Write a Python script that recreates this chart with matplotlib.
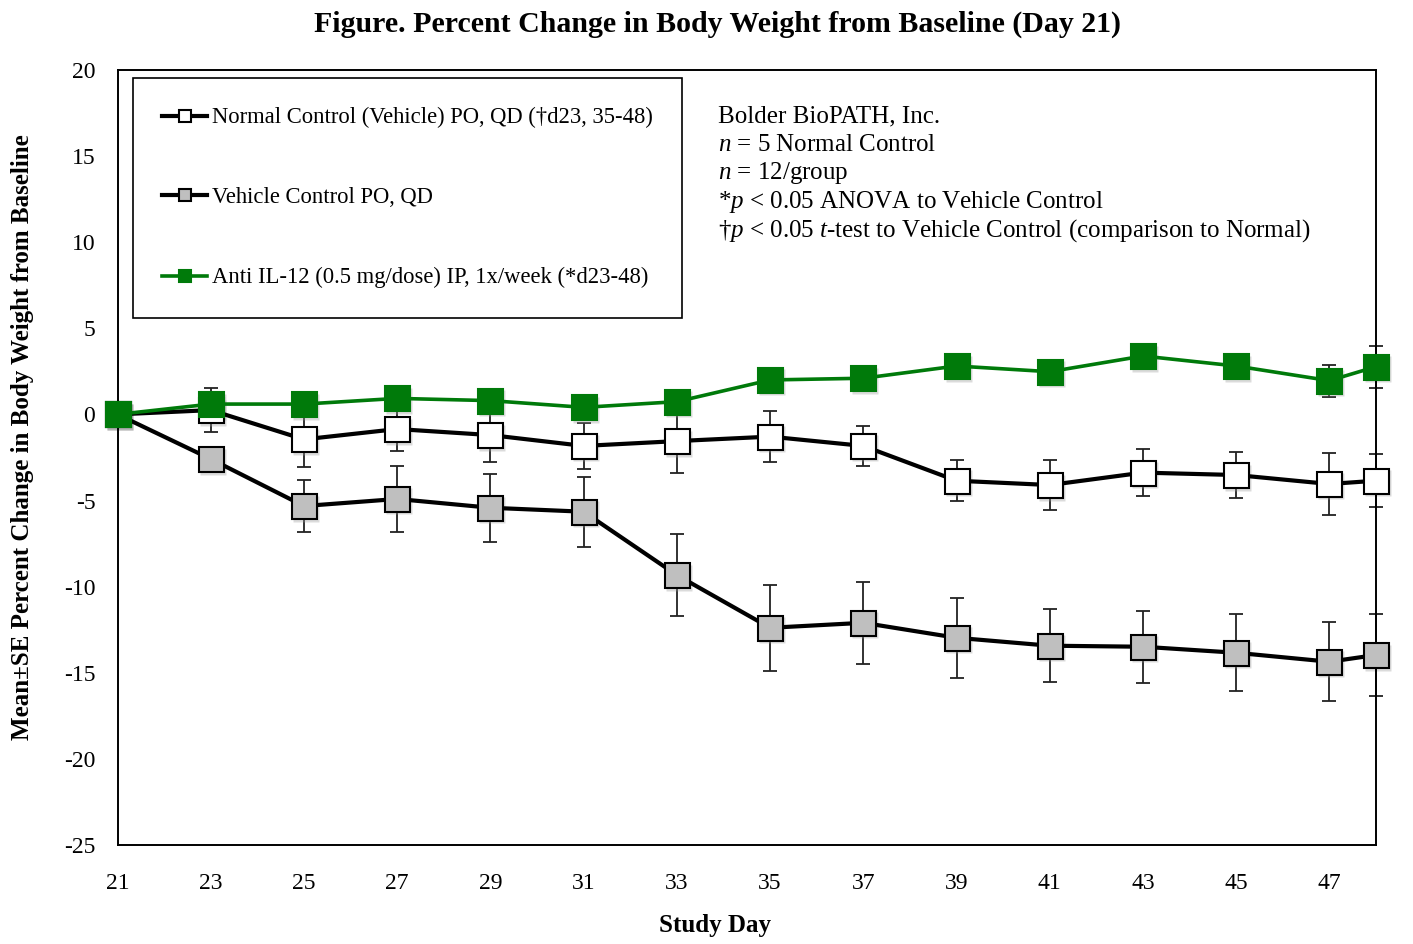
import matplotlib
matplotlib.use('Agg')
import matplotlib.pyplot as plt
import matplotlib.transforms as mtransforms

plt.rcParams['font.family'] = 'Liberation Serif'
plt.rcParams['mathtext.fontset'] = 'custom'
plt.rcParams['mathtext.rm'] = 'Liberation Serif'
plt.rcParams['mathtext.it'] = 'Liberation Serif:italic'
plt.rcParams['axes.unicode_minus'] = False

# Study days
days = [21, 23, 25, 27, 29, 31, 33, 35, 37, 39, 41, 43, 45, 47, 48]

# Normal Control (Vehicle) PO, QD
normal = [0.0, 0.25, -1.45, -0.85, -1.2, -1.83, -1.55, -1.29, -1.83, -3.85, -4.1, -3.38, -3.52, -4.04, -3.85]
normal_se = [0.0, 1.3, 1.6, 1.26, 1.55, 1.35, 1.84, 1.48, 1.15, 1.18, 1.45, 1.38, 1.33, 1.79, 1.53]

# Vehicle Control PO, QD
vehicle = [0.0, -2.59, -5.32, -4.91, -5.42, -5.65, -9.33, -12.39, -12.1, -12.97, -13.43, -13.49, -13.84, -14.36, -13.97]
vehicle_se = [0.0, 0.4, 1.5, 1.93, 1.96, 2.03, 2.38, 2.5, 2.39, 2.32, 2.11, 2.08, 2.24, 2.29, 2.38]

# Anti IL-12 (0.5 mg/dose) IP, 1x/week
anti = [0.0, 0.6, 0.6, 0.93, 0.8, 0.41, 0.74, 2.0, 2.1, 2.81, 2.48, 3.39, 2.81, 1.96, 2.77]
anti_se = [0.0, 0.5, 0.5, 0.5, 0.5, 0.5, 0.5, 0.6, 0.6, 0.6, 0.6, 0.6, 0.6, 0.93, 1.22]

labels = ['Normal Control (Vehicle) PO, QD (\u2020d23, 35-48)',
          'Vehicle Control PO, QD',
          'Anti IL-12 (0.5 mg/dose) IP, 1x/week (*d23-48)']

notes = ['Bolder BioPATH, Inc.',
         '$n$ = 5 Normal Control',
         '$n$ = 12/group',
         '*$p$ < 0.05 ANOVA to Vehicle Control',
         '\u2020$p$ < 0.05 $t$-test to Vehicle Control (comparison to Normal)']

fig = plt.figure(figsize=(14.13, 9.44), dpi=100)
ax = fig.add_axes([0.0832, 0.1049, 0.8906, 0.8210])

series = [
    (normal, normal_se, 'black', 'white'),
    (vehicle, vehicle_se, 'black', '#bfbfbf'),
    (anti, anti_se, '#007a0a', '#007a0a'),
]

# soft drop shadow under the markers
shift = mtransforms.ScaledTranslation(2 / 100, -2.5 / 100, fig.dpi_scale_trans)
for vals, se, lc, fc in series:
    ax.plot(days, vals, linestyle='none', marker='s', markersize=19,
            markerfacecolor='#999999', markeredgecolor='none', alpha=0.35,
            transform=ax.transData + shift, zorder=2.5, clip_on=False)

for vals, se, lc, fc in series:
    ax.errorbar(days, vals, yerr=se, fmt='none', ecolor='#222222',
                elinewidth=1.3, capsize=5, capthick=1.3, zorder=2, clip_on=False)
for (vals, se, lc, fc), lab in zip(series, labels):
    mec = 'black' if fc != lc else lc
    ax.plot(days, vals, color=lc, linewidth=3 if lc == 'black' else 2.6,
            marker='s', markersize=18, markerfacecolor=fc, markeredgecolor=mec,
            markeredgewidth=1.5, label=lab, zorder=3, clip_on=False)

ax.set_xlim(21, 48)
ax.set_ylim(-25, 20)
ax.set_xticks(range(21, 48, 2))
ax.set_yticks(range(-25, 21, 5))
ax.tick_params(axis='both', length=0, labelsize=17)
ax.tick_params(axis='y', pad=16)
ax.tick_params(axis='x', pad=20)
for s in ax.spines.values():
    s.set_linewidth(1.4)
    s.set_color('black')

fig.text(0.508, 0.974, 'Figure. Percent Change in Body Weight from Baseline (Day 21)',
         fontsize=21.5, fontweight='bold', ha='center', va='center')
fig.text(0.506, 0.020, 'Study Day', fontsize=18, fontweight='bold',
         ha='center', va='center')
fig.text(0.0156, 0.537, 'Mean\u00b1SE Percent Change in Body Weight from Baseline',
         fontsize=18, fontweight='bold', ha='center', va='center', rotation=90)

leg = ax.legend(loc='upper left', bbox_to_anchor=(0.0123, 0.9897), borderaxespad=0,
                fontsize=16.3, frameon=True, fancybox=False, edgecolor='black',
                framealpha=1, markerscale=0.5, handlelength=1.97, handletextpad=0.2,
                labelspacing=2.6, borderpad=1.3)
leg.get_frame().set_linewidth(1.2)

for i, t in enumerate(notes):
    ax.text(0.477, 0.940 - i * 0.0368, t, transform=ax.transAxes,
            fontsize=18, va='center', ha='left')

fig.savefig('out.png', dpi=100)
